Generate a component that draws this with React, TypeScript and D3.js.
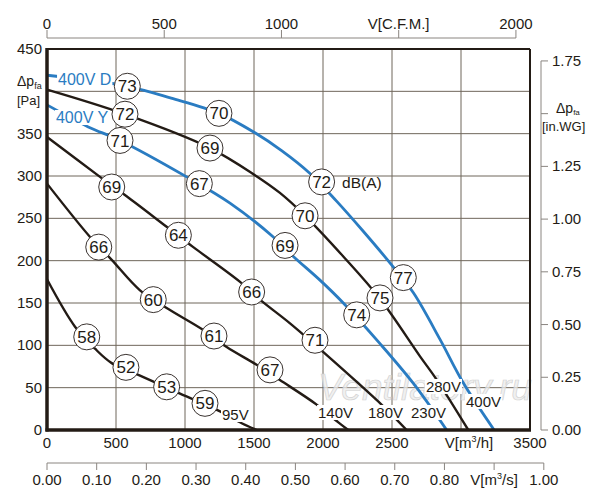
import React, { useEffect, useRef } from 'react';
import * as d3 from 'd3';

type Pt = [number, number];
type Noise = [number, number, number];

// axis ticks
const flowTicks = [0, 500, 1000, 1500, 2000, 2500, 3000, 3500];
const pressureTicks = [0, 50, 100, 150, 200, 250, 300, 350, 400, 450];
const cfmTicks = [0, 500, 1000, 1500, 2000];
const inwgTicks = [0, 0.25, 0.5, 0.75, 1, 1.25, 1.5, 1.75];
const m3sTicks = [0, 0.1, 0.2, 0.3, 0.4, 0.5, 0.6, 0.7, 0.8, 0.9, 1.0];

// fan curves, [m3/h, Pa]
const curve400D: Pt[] = [[0, 419], [582, 406], [900, 392], [1246, 374], [1507, 351], [1700, 330], [1906, 303], [2100, 270], [2290, 235], [2507, 193], [2655, 162], [2848, 107], [3015, 56], [3240, 0]];
const curve280: Pt[] = [[0, 402], [565, 373], [1181, 333], [1507, 301], [1688, 280], [1870, 253], [2147, 205], [2413, 155], [2703, 87], [2826, 59], [3053, 0]];
const curve400Y: Pt[] = [[0, 384], [299, 358], [529, 342], [1012, 299], [1326, 268], [1640, 228], [1785, 205], [1978, 177], [2147, 150], [2413, 102], [2655, 55], [2896, 0]];
const curve180: Pt[] = [[0, 346], [384, 299], [577, 276], [867, 240], [1060, 216], [1399, 175], [1543, 154], [1761, 126], [2002, 92], [2437, 28], [2606, 0]];
const curve140: Pt[] = [[0, 291], [312, 228], [469, 201], [674, 165], [867, 144], [1133, 118], [1302, 98], [1519, 77], [1688, 59], [1954, 30], [2111, 9], [2183, 0]];
const curve95: Pt[] = [[0, 178], [203, 122], [348, 96], [469, 79], [662, 65], [964, 43], [1254, 22], [1411, 8], [1520, 0]];

// sound levels dB(A) on the curves, [m3/h, Pa, dB]
const noise400D: Noise[] = [[582, 406, 73], [1246, 374, 70], [1990, 293, 72], [2582, 180, 77]];
const noise280: Noise[] = [[565, 373, 72], [1181, 333, 69], [1870, 253, 70], [2413, 156, 75]];
const noise400Y: Noise[] = [[529, 342, 71], [1104, 291, 67], [1725, 218, 69], [2244, 136, 74]];
const noise180: Noise[] = [[469, 287, 69], [952, 230, 64], [1483, 163, 66], [1942, 106, 71]];
const noise140: Noise[] = [[375, 216, 66], [770, 154, 60], [1210, 111, 61], [1616, 71, 67]];
const noise95: Noise[] = [[288, 110, 58], [572, 74, 52], [867, 51, 53], [1145, 31.5, 59]];

const BLUE = '#2a7cc2';
const DARK = '#231b15';
const FONT = '"Liberation Sans", Arial, sans-serif';

const App: React.FC = () => {
  const ref = useRef<SVGSVGElement | null>(null);

  useEffect(() => {
    if (!ref.current) return;
    const svg = d3.select(ref.current);
    svg.selectAll('*').remove();

    const x = d3.scaleLinear().domain([0, 3500]).range([47, 530]);
    const y = d3.scaleLinear().domain([0, 450]).range([430, 49]);

    // grid
    const grid = svg.append('g').attr('stroke', '#6f665b').attr('stroke-width', 1);
    flowTicks.slice(1, -1).forEach(v => {
      grid.append('line').attr('x1', x(v)).attr('x2', x(v)).attr('y1', y(0)).attr('y2', y(450));
    });
    pressureTicks.slice(1, -1).forEach(v => {
      grid.append('line').attr('x1', x(0)).attr('x2', x(3500)).attr('y1', y(v)).attr('y2', y(v));
    });

    // watermark
    svg.append('text')
      .attr('x', 318).attr('y', 400)
      .attr('font-family', FONT).attr('font-style', 'italic').attr('font-size', 37)
      .attr('fill', '#ececec').attr('fill-opacity', 0.75)
      .attr('stroke', '#d2d2d2').attr('stroke-width', 0.7)
      .text('Ventilatory.ru');

    const line = d3.line<Pt>().x(d => x(d[0])).y(d => y(d[1])).curve(d3.curveCatmullRom.alpha(0.5));
    const curves = [
      { pts: curve95, color: DARK, w: 2.4 },
      { pts: curve140, color: DARK, w: 2.4 },
      { pts: curve180, color: DARK, w: 2.4 },
      { pts: curve400Y, color: BLUE, w: 2.8 },
      { pts: curve280, color: DARK, w: 2.4 },
      { pts: curve400D, color: BLUE, w: 2.8 },
    ];
    curves.forEach(c => {
      svg.append('path').attr('d', line(c.pts)).attr('fill', 'none')
        .attr('stroke', c.color).attr('stroke-width', c.w);
    });

    // labels with white background
    const label = (t: string, q: number, p: number, size: number, color: string) => {
      const g = svg.append('g');
      const txt = g.append('text').attr('x', x(q)).attr('y', y(p))
        .attr('font-family', FONT).attr('font-size', size).attr('fill', color).text(t);
      const b = (txt.node() as SVGTextElement).getBBox();
      g.insert('rect', 'text').attr('x', b.x - 1).attr('y', b.y + 1)
        .attr('width', b.width + 2).attr('height', b.height - 2).attr('fill', '#fff');
    };
    label('400V D', 80, 407.5, 16, BLUE);
    label('400V Y', 65, 362.6, 16, BLUE);
    label('95V', 1268, 11.8, 15, DARK);
    label('140V', 1964, 14.2, 15, DARK);
    label('180V', 2326, 14.2, 15, DARK);
    label('230V', 2638, 14.2, 15, DARK);
    label('280V', 2746, 44.9, 15, DARK);
    label('400V', 3036, 27.2, 15, DARK);

    svg.append('text').attr('x', x(2138)).attr('y', y(286))
      .attr('font-family', FONT).attr('font-size', 15.5).attr('fill', DARK).text('dB(A)');

    // noise circles
    const allNoise = [...noise400D, ...noise280, ...noise400Y, ...noise180, ...noise140, ...noise95];
    const nc = svg.append('g');
    nc.selectAll('circle').data(allNoise).enter().append('circle')
      .attr('cx', d => x(d[0])).attr('cy', d => y(d[1])).attr('r', 13)
      .attr('fill', '#fff').attr('stroke', '#3a3330').attr('stroke-width', 1);
    nc.selectAll('text').data(allNoise).enter().append('text')
      .attr('x', d => x(d[0])).attr('y', d => y(d[1])).attr('dy', '0.36em')
      .attr('text-anchor', 'middle').attr('font-family', FONT).attr('font-size', 17)
      .attr('fill', DARK).text(d => String(d[2]));

    // frame
    const fr = svg.append('g').attr('stroke', DARK);
    fr.append('line').attr('x1', x(0)).attr('x2', x(3500)).attr('y1', y(450)).attr('y2', y(450)).attr('stroke-width', 2);
    fr.append('line').attr('x1', x(3500)).attr('x2', x(3500)).attr('y1', y(0)).attr('y2', y(450)).attr('stroke-width', 2);
    fr.append('line').attr('x1', x(0)).attr('x2', x(0)).attr('y1', y(0) + 1.5).attr('y2', y(450) - 1).attr('stroke-width', 3.5);
    fr.append('line').attr('x1', x(0) - 1.5).attr('x2', x(3500) + 1).attr('y1', y(0)).attr('y2', y(0)).attr('stroke-width', 3.5);

    const txt = (t: string, px: number, py: number, anchor: string, size = 15) =>
      svg.append('text').attr('x', px).attr('y', py).attr('text-anchor', anchor)
        .attr('font-family', FONT).attr('font-size', size).attr('fill', DARK).text(t);

    // left axis
    pressureTicks.forEach(v => {
      if (v === 400) return;
      txt(String(v), 42, y(v) + 5, 'end');
    });
    const lp = txt('Δp', 17, 86, 'start', 14);
    lp.append('tspan').attr('font-size', 9).attr('dy', 3).text('fa');
    txt('[Pa]', 17, 105, 'start', 13);

    // bottom axis m3/h
    flowTicks.forEach(v => {
      if (v !== 3000) txt(String(v), x(v), 448, 'middle');
    });
    const vh = txt('V[m', 469, 448, 'middle');
    vh.append('tspan').attr('font-size', 9).attr('dy', -6).text('3');
    vh.append('tspan').attr('dy', 6).text('/h]');

    const axisColor = '#8a8580';
    // top axis CFM
    const cfmX = (c: number) => x(c * 1.699);
    svg.append('line').attr('x1', cfmX(0)).attr('x2', cfmX(2000)).attr('y1', 38).attr('y2', 38)
      .attr('stroke', axisColor).attr('stroke-width', 1);
    cfmTicks.forEach(c => {
      svg.append('line').attr('x1', cfmX(c)).attr('x2', cfmX(c)).attr('y1', 30).attr('y2', 38)
        .attr('stroke', axisColor).attr('stroke-width', 1);
      txt(c === 1500 ? 'V[C.F.M.]' : String(c), cfmX(c), 29, 'middle');
    });

    // right axis in.WG
    const wgY = (w: number) => y(w * 249.09);
    svg.append('line').attr('x1', 541).attr('x2', 541).attr('y1', wgY(0)).attr('y2', wgY(1.75))
      .attr('stroke', axisColor).attr('stroke-width', 1);
    inwgTicks.forEach(w => {
      svg.append('line').attr('x1', 541).attr('x2', 548).attr('y1', wgY(w)).attr('y2', wgY(w))
        .attr('stroke', axisColor).attr('stroke-width', 1);
      if (w !== 1.5) txt(w.toFixed(2), 552, wgY(w) + 5, 'start');
    });
    const rp = txt('Δp', 556, 113, 'start', 14);
    rp.append('tspan').attr('font-size', 8).attr('dy', 2).text('fa');
    txt('[in.WG]', 542, 131, 'start', 13);

    // bottom axis m3/s
    const sX = (s: number) => x(s * 3600);
    svg.append('line').attr('x1', sX(0)).attr('x2', sX(1)).attr('y1', 463).attr('y2', 463)
      .attr('stroke', axisColor).attr('stroke-width', 1);
    m3sTicks.forEach(s => {
      svg.append('line').attr('x1', sX(s)).attr('x2', sX(s)).attr('y1', 463).attr('y2', 470)
        .attr('stroke', axisColor).attr('stroke-width', 1);
      if (Math.abs(s - 0.9) > 1e-6) txt(s.toFixed(2), sX(s), 485, 'middle');
    });
    const vs = txt('V[m', sX(0.9), 485, 'middle');
    vs.append('tspan').attr('font-size', 9).attr('dy', -6).text('3');
    vs.append('tspan').attr('dy', 6).text('/s]');
  }, []);

  return (
    <svg
      ref={ref}
      width={600}
      height={500}
      style={{ position: 'absolute', left: 0, top: 0, background: '#fff' }}
    />
  );
};

export default App;
